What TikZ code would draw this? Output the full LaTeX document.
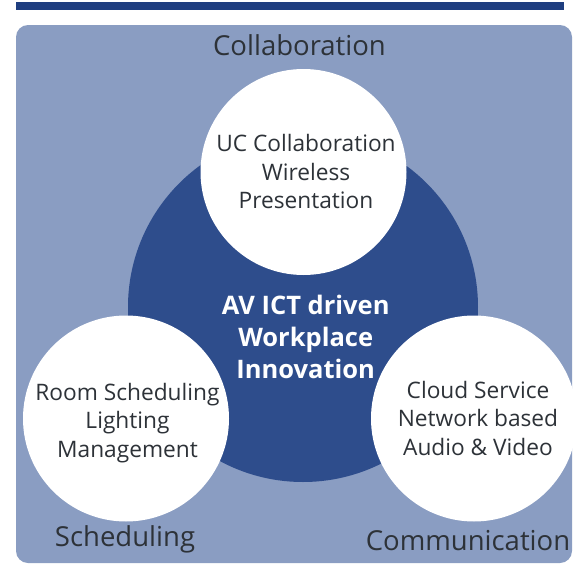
\documentclass[tikz,border=0pt]{standalone}
\usepackage{fontspec}
\setmainfont{Open Sans}
\definecolor{barblue}{HTML}{1F3E80}
\definecolor{panelblue}{HTML}{8A9DC2}
\definecolor{hubblue}{HTML}{2E4D8C}
\definecolor{txt}{HTML}{2D3238}
\tikzset{
  panel/.style={fill=panelblue, rounded corners=12pt},
  topbar/.style={fill=barblue},
  hub/.style={circle, fill=hubblue, minimum size=350pt, inner sep=0pt},
  spoke/.style={circle, fill=white, minimum size=206pt, inner sep=0pt},
  inner/.style={align=center, text=txt, inner sep=0pt, font=\fontsize{22.7}{28.4}\selectfont},
  outer/.style={anchor=base, text=txt, inner sep=0pt, font=\fontsize{27.5}{30}\selectfont},
  core/.style={align=center, text=white, inner sep=0pt, font=\bfseries\fontsize{25.5}{32}\selectfont}
}
\begin{document}
\begin{tikzpicture}[x=1pt,y=-1pt]
\useasboundingbox (0,0) rectangle (574,568);
\fill[topbar] (16,2) rectangle (564,9.5);
\fill[panel] (16,25) rectangle (572,563);
\node[hub] (hub) at (303,307) {};
\node[spoke] (top) at (303.5,172) {};
\node[spoke] (left) at (126,418.5) {};
\node[spoke] (right) at (474,418.5) {};
\node[core] (coretext) at (305.7,336.5) {AV ICT driven\\Workplace\\Innovation};
\node[inner] (toptext) at (306,171.5) {UC Collaboration\\Wireless\\Presentation};
\node[inner] (lefttext) at (127.5,422.8) {Room Scheduling\\Lighting\\Management};
\node[inner] (righttext) at (478,418.3) {Cloud Service\\Network based\\Audio \& Video};
\node[outer] (collab) at (299.5,55.6) {Collaboration};
\node[outer] (sched) at (125,546.7) {Scheduling};
\node[outer] (comm) at (468,550) {Communication};
\end{tikzpicture}
\end{document}
